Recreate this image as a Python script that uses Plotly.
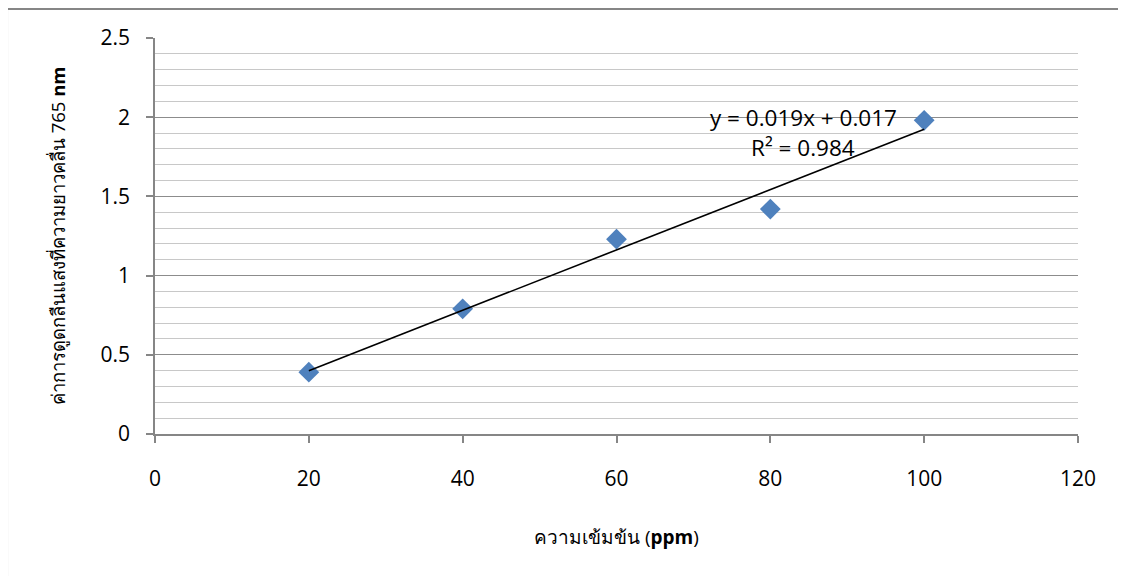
import numpy as np
import plotly.graph_objects as go

conc = [20, 40, 60, 80, 100]
absorb = [0.39, 0.79, 1.23, 1.42, 1.98]
x_ticks = [0, 20, 40, 60, 80, 100, 120]
y_ticks = [0, 0.5, 1, 1.5, 2, 2.5]
eq_text = "y = 0.019x + 0.017"
r2_text = "R² = 0.984"
x_title = "ความเข้มข้น (<b>ppm</b>)"
y_title = "ค่าการดูดกลืนแสงที่ความยาวคลื่น 765 <b>nm</b>"

slope, intercept = np.polyfit(conc, absorb, 1)
fit_x = [min(conc), max(conc)]
fit_y = [slope * v + intercept for v in fit_x]

AX = "#868686"
FONT = "Open Sans, Liberation Sans, sans-serif"

fig = go.Figure()
fig.add_trace(go.Scatter(x=conc, y=absorb, mode="markers",
                         marker=dict(symbol="diamond", size=16, color="#4F81BD",
                                     line=dict(width=0)),
                         showlegend=False, hoverinfo="x+y"))
fig.add_trace(go.Scatter(x=fit_x, y=fit_y, mode="lines",
                         line=dict(color="black", width=1.6),
                         showlegend=False, hoverinfo="skip"))

fig.update_layout(
    width=1126, height=576,
    margin=dict(l=147, r=56, t=30, b=150),
    paper_bgcolor="white", plot_bgcolor="white",
    font=dict(family=FONT, size=21, color="black"),
    xaxis=dict(range=[0, 120], tickvals=x_ticks, showgrid=False, zeroline=False,
               showline=True, linecolor=AX, linewidth=1.5,
               ticks="outside", ticklen=7, tickcolor=AX, tickwidth=1.5,
               ticklabelstandoff=18, tickfont=dict(size=21)),
    yaxis=dict(range=[0, 2.5], tickvals=y_ticks, showgrid=True, gridcolor="#8c8c8c",
               gridwidth=1.2, zeroline=False,
               showline=True, linecolor=AX, linewidth=1.5,
               ticks="outside", ticklen=7, tickcolor=AX, tickwidth=1.5,
               ticklabelstandoff=12, tickfont=dict(size=21),
               minor=dict(dtick=0.1, showgrid=True, gridcolor="#c8c8c8", gridwidth=1.2)),
    annotations=[
        dict(x=84.25, y=1.995, xref="x", yref="y", text=eq_text, showarrow=False,
             font=dict(size=22.5, family=FONT), xanchor="center", yanchor="middle"),
        dict(x=84.25, y=1.806, xref="x", yref="y", text=r2_text, showarrow=False,
             font=dict(size=22.5, family=FONT), xanchor="center", yanchor="middle"),
        dict(x=0.5, y=-0.26, xref="paper", yref="paper", text=x_title, showarrow=False,
             font=dict(size=19, family=FONT), xanchor="center", yanchor="middle"),
        dict(x=-0.106, y=0.5, xref="paper", yref="paper", text=y_title, showarrow=False,
             textangle=-90, font=dict(size=18.5, family=FONT), xanchor="center", yanchor="middle"),
    ],
    shapes=[
        dict(type="rect", xref="paper", yref="paper", x0=-0.1603, x1=1.06, y0=-0.37, y1=1.0732,
             line=dict(color=AX, width=2), fillcolor="rgba(0,0,0,0)", layer="below"),
    ],
)

fig.write_html("out.html")
